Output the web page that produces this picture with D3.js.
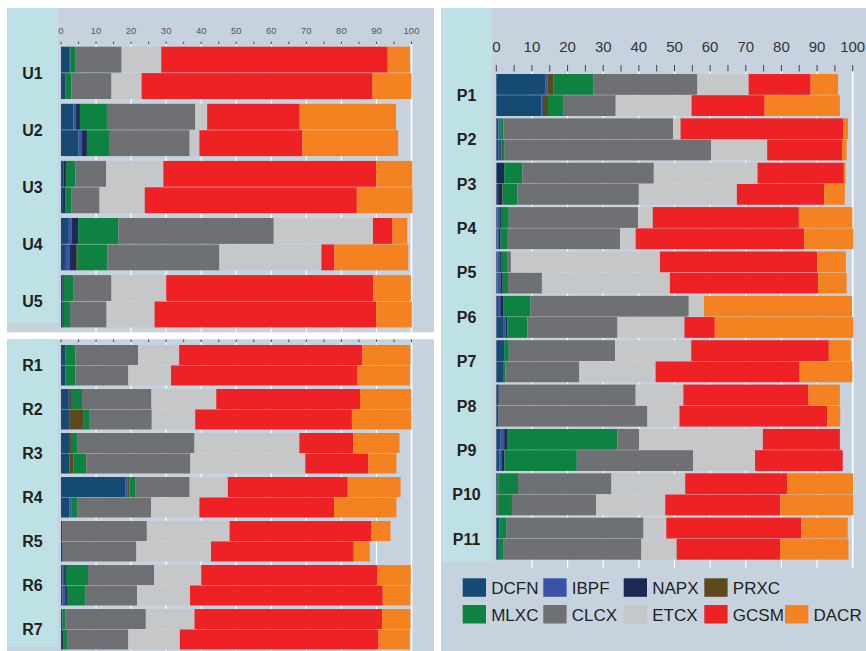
<!DOCTYPE html>
<html><head><meta charset="utf-8">
<script src="https://cdn.jsdelivr.net/npm/d3@7"></script>
<style>body{margin:0;background:#fff}svg{display:block}text{font-family:"Liberation Sans",Arial,sans-serif}</style>
</head><body>
<svg id="c" width="866" height="651"></svg>
<script>
const seriesNames = ["DCFN","IBPF","NAPX","PRXC","MLXC","CLCX","ETCX","GCSM","DACR"];
const seriesColors = ["#154a72","#3a53a4","#1b2a52","#5c4a1d","#0e8341","#6f7073","#c6c7c9","#ee2224","#f58220"];
const tickLabels = [0,10,20,30,40,50,60,70,80,90,100];

const uGroups = ["U1","U2","U3","U4","U5"];
const uValues = [
  [[2.4,0,0.3,0,1.5,13.1,11.3,64.6,6.4],[0.9,0,0.4,0,1.7,11.4,8.6,65.9,11.1]],
  [[3.5,0.8,1.1,0,7.7,25.2,3.4,26.4,27.5],[5.0,1.0,1.4,0,6.3,23.0,2.8,29.4,27.3]],
  [[0.7,0,0.7,0,2.7,8.8,16.3,60.7,10.3],[0.6,0,0.7,0,1.6,8.1,12.9,60.5,15.9]],
  [[2.0,1.0,1.9,0,11.5,44.3,28.3,5.6,4.2],[1.4,1.0,1.9,0.3,8.6,32.0,29.1,3.7,21.1]],
  [[0.4,0,0.4,0,2.8,10.8,15.6,59.1,10.7],[0.5,0,0.3,0,1.8,10.4,13.7,63.2,10.2]]
];

const rGroups = ["R1","R2","R3","R4","R5","R6","R7"];
const rValues = [
  [[1.2,0,0,0.2,2.7,17.9,11.7,52.3,13.7],[1.2,0,0,0.2,2.7,15.1,12.2,53.2,15.0]],
  [[2.0,0.3,0,0.8,2.9,19.8,18.5,41.0,14.6],[2.5,0,0,3.8,1.9,17.7,12.4,44.7,17.0]],
  [[2.3,0,0,0.8,1.5,33.5,29.9,15.4,13.2],[2.4,0,0,1.2,3.6,29.7,32.8,18.0,8.0]],
  [[18.3,0.6,0,0.6,1.8,15.4,10.9,34.2,15.1],[2.4,0.5,0,0,1.7,21.1,13.8,38.4,17.8]],
  [[0.3,0,0,0,0,24.2,23.6,40.5,5.4],[0.5,0,0,0,0,21.0,21.3,40.7,4.6]],
  [[0.4,0.5,0.5,0,6.3,18.9,13.4,50.3,9.5],[0.4,0.8,0.5,0,5.2,14.8,15.1,55.0,7.9]],
  [[0.4,0,0,0,0.8,23.0,13.9,53.5,8.1],[0.3,0,0.3,0,1.1,17.5,14.7,56.7,8.9]]
];

const pGroups = ["P1","P2","P3","P4","P5","P6","P7","P8","P9","P10","P11"];
const pValues = [
  [[13.7,0.6,0,1.8,11.2,29.1,14.4,17.4,7.7],[12.7,0.4,0,1.4,4.2,14.8,21.3,20.5,21.1]],
  [[0.6,0.3,0.2,0,0.9,47.6,2.1,45.7,1.3],[0.5,0.6,0.3,0,0.8,58.1,15.7,21.0,1.3]],
  [[0.2,0,2.0,0,5.1,36.9,29.1,24.2,0.5],[0.5,0,1.1,0.2,4.1,34.1,27.5,24.5,5.8]],
  [[0.3,0.7,0.3,0,2.2,36.3,4.1,41.0,15.0],[0.3,0.4,0.5,0,1.8,31.7,4.4,47.3,13.8]],
  [[0.3,0.7,0.3,0,1.7,1.1,41.8,44.2,8.0],[0.3,0.9,0.6,0,1.5,9.5,35.9,41.6,8.0]],
  [[0.5,0.6,0.8,0,7.7,44.4,4.3,0,41.5],[2.1,0.5,0.5,0,5.6,25.3,18.8,8.5,38.9]],
  [[2.2,0,0,0,1.3,29.8,21.4,38.6,6.2],[2.1,0,0,0,0.5,20.7,21.4,40.4,14.8]],
  [[0.7,0,0,0,0,38.4,13.4,35.1,8.8],[0.5,0,0,0,0,41.9,9.0,41.5,3.6]],
  [[1.1,1.1,0.8,0,31.0,6.1,34.7,21.6,0],[0.9,0.7,0.7,0,20.3,32.6,17.4,24.6,0]],
  [[0.4,0,0,0.2,5.5,26.2,20.7,28.6,18.5],[0.3,0,0,0.4,3.7,23.6,19.4,32.3,20.5]],
  [[0.9,0,0,0,2.0,38.4,6.4,37.9,13.0],[0.7,0,0,0,1.2,38.8,9.9,29.0,19.2]]
];

const svg = d3.select("#c");
const color = d3.scaleOrdinal().domain(seriesNames).range(seriesColors);
const BG = "#c6d3df", CYAN = "#bde1e5";

function panel(groups, values, L) {
  const g = svg.append("g");
  g.append("rect").attr("x",L.px).attr("y",L.py).attr("width",L.pw).attr("height",L.ph).attr("fill",BG);
  g.append("rect").attr("x",L.px).attr("y",L.py).attr("width",L.cw).attr("height",L.ch).attr("fill",CYAN);
  const x = d3.scaleLinear().domain([0,100]).range(L.xr);
  const y = d3.scaleBand().domain(groups).range(L.yr).paddingInner(L.pad).paddingOuter(0);
  const yi = d3.scaleBand().domain([0,1]).range([0,y.bandwidth()]).paddingInner(0.02);
  g.selectAll(".grid").data(d3.range(10,101,10)).join("line")
    .attr("x1",d=>x(d)).attr("x2",d=>x(d)).attr("y1",L.g0).attr("y2",L.g1)
    .attr("stroke","#fff").attr("stroke-width",d=>d===100?1.6:1.2);
  g.selectAll(".tk").data(d3.range(0,101,5)).join("line")
    .attr("x1",d=>x(d)).attr("x2",d=>x(d)).attr("y1",L.t0).attr("y2",L.t1)
    .attr("stroke","#444").attr("stroke-width",1);
  if (L.lf) {
    g.selectAll(".tl").data(tickLabels).join("text")
      .attr("x",d=>x(d)).attr("y",L.ly).attr("text-anchor","middle")
      .attr("font-size",L.lf).attr("fill",L.lc).text(d=>d);
  }
  const rows = [];
  groups.forEach((gr,i)=>values[i].forEach((vals,b)=>{
    const r = {group:gr, bar:b};
    seriesNames.forEach((s,k)=>r[s]=vals[k]);
    rows.push(r);
  }));
  const stacked = d3.stack().keys(seriesNames)(rows);
  g.selectAll(".s").data(stacked).join("g").attr("fill",d=>color(d.key))
    .selectAll("rect").data(d=>d.filter(p=>p[1]-p[0]>0)).join("rect")
    .attr("x",d=>x(d[0])).attr("width",d=>x(d[1])-x(d[0]))
    .attr("y",d=>y(d.data.group)+yi(d.data.bar)).attr("height",yi.bandwidth());
  g.selectAll(".gl").data(groups).join("text")
    .attr("x",L.px+L.cw/2).attr("y",d=>y(d)+y.bandwidth()/2+6)
    .attr("text-anchor","middle").attr("font-size",16).attr("font-weight","bold")
    .attr("fill","#231f20").text(d=>d);
}

panel(uGroups,uValues,{px:7,py:8,pw:427,ph:324.3,cw:51,ch:315,xr:[61,411.5],yr:[46.7,327.4],pad:0.084,
  g0:44,g1:332,t0:41.7,t1:44,lf:9.5,ly:33.5,lc:"#555"});
panel(rGroups,rValues,{px:7,py:339.3,pw:427,ph:311.7,cw:51,ch:307.4,xr:[61,411.5],yr:[345,649.5],pad:0.08,
  g0:342,g1:651,t0:339.5,t1:342,lf:0});
panel(pGroups,pValues,{px:441,py:8,pw:425,ph:643,cw:51,ch:553.7,xr:[496.3,852.7],yr:[74,559.7],pad:0.053,
  g0:71,g1:567.7,t0:65,t1:71.5,lf:15,ly:52,lc:"#333"});

const legendRows = [seriesNames.slice(0,4), seriesNames.slice(4)];
const legX = [462.7,543.3,623.7,704.3,785];
const legY = [578.3,605];
legendRows.forEach((row,ri)=>{
  const lg = svg.append("g");
  row.forEach((s,ci)=>{
    lg.append("rect").attr("x",legX[ci]).attr("y",legY[ri]).attr("width",23.3).attr("height",18.5).attr("fill",color(s));
    lg.append("text").attr("x",legX[ci]+28.5).attr("y",legY[ri]+16).attr("font-size",17).attr("fill","#231f20").text(s);
  });
});
</script>
</body></html>
